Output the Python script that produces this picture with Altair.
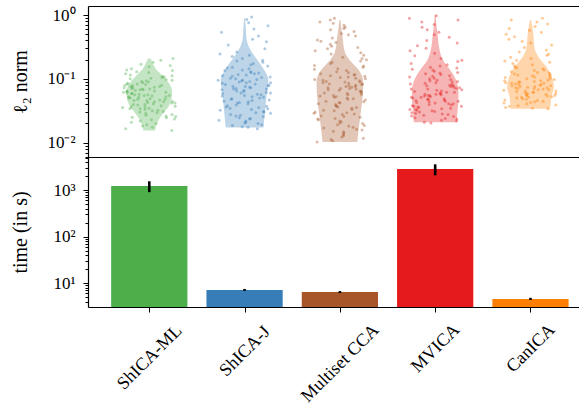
import json
import altair as alt
import pandas as pd

# ---------------- data ----------------
methods = ["ShICA-ML", "ShICA-J", "Multiset CCA", "MVICA", "CanICA"]
palette = ["#4daf4a", "#377eb8", "#a65628", "#e41a1c", "#ff7f00"]

# fitting time (s): mean and error half-length
time_mean = [1220, 7.1, 6.4, 2820, 4.55]
time_err = [320, 0.35, 0.3, 750, 0.25]

# violin outlines: log10(l2 norm) levels and relative half-widths
shica_ml_levels = [-1.81, -1.73, -1.57, -1.42, -1.30, -1.21, -1.10, -1.00, -0.93, -0.84, -0.76, -0.68]
shica_ml_widths = [0.25, 0.29, 0.52, 0.83, 0.94, 0.96, 0.88, 0.67, 0.50, 0.27, 0.15, 0.06]
shica_j_levels = [-1.76, -1.62, -1.42, -1.21, -1.02, -0.84, -0.68, -0.52, -0.37, -0.20, -0.05]
shica_j_widths = [0.79, 0.83, 0.88, 0.94, 1.00, 0.79, 0.49, 0.21, 0.08, 0.05, 0.02]
mcca_levels = [-1.99, -1.78, -1.52, -1.26, -1.05, -0.86, -0.73, -0.58, -0.37, -0.20, -0.08]
mcca_widths = [0.73, 0.79, 0.88, 0.96, 0.98, 0.79, 0.46, 0.21, 0.12, 0.06, 0.02]
mvica_levels = [-1.68, -1.57, -1.42, -1.21, -1.02, -0.86, -0.71, -0.52, -0.31, -0.15, 0.00]
mvica_widths = [0.90, 0.92, 0.96, 0.98, 0.88, 0.63, 0.33, 0.17, 0.10, 0.05, 0.02]
canica_levels = [-1.47, -1.28, -1.13, -1.00, -0.81, -0.68, -0.52, -0.31, -0.15, -0.08]
canica_widths = [0.83, 0.88, 0.98, 0.92, 0.67, 0.38, 0.17, 0.12, 0.06, 0.02]

# individual points, log10(l2 norm)
shica_ml_points = [-1.81, -1.78, -1.76, -1.74, -1.72, -1.70, -1.68, -1.66, -1.64, -1.63, -1.61, -1.60,
                   -1.59, -1.58, -1.57, -1.56, -1.54, -1.53, -1.52, -1.51, -1.50, -1.49, -1.48, -1.47,
                   -1.47, -1.46, -1.45, -1.44, -1.44, -1.43, -1.42, -1.41, -1.40, -1.40, -1.39, -1.38,
                   -1.38, -1.37, -1.36, -1.36, -1.35, -1.34, -1.34, -1.33, -1.32, -1.32, -1.31, -1.30,
                   -1.30, -1.29, -1.28, -1.28, -1.27, -1.26, -1.26, -1.25, -1.25, -1.24, -1.23, -1.23,
                   -1.22, -1.21, -1.21, -1.20, -1.19, -1.19, -1.18, -1.17, -1.17, -1.16, -1.16, -1.15,
                   -1.14, -1.14, -1.13, -1.12, -1.12, -1.11, -1.10, -1.10, -1.09, -1.08, -1.08, -1.07,
                   -1.06, -1.05, -1.04, -1.03, -1.02, -1.01, -1.00, -0.99, -0.98, -0.97, -0.96, -0.95,
                   -0.94, -0.92, -0.90, -0.89, -0.87, -0.86, -0.84, -0.81, -0.79, -0.77, -0.74, -0.71, -0.68]
shica_j_points = [-1.78, -1.76, -1.75, -1.73, -1.72, -1.70, -1.69, -1.68, -1.66, -1.65, -1.63, -1.62,
                  -1.61, -1.59, -1.58, -1.57, -1.56, -1.54, -1.53, -1.52, -1.51, -1.49, -1.48, -1.47,
                  -1.46, -1.45, -1.44, -1.43, -1.42, -1.41, -1.39, -1.38, -1.37, -1.36, -1.35, -1.34,
                  -1.33, -1.32, -1.31, -1.30, -1.29, -1.28, -1.27, -1.26, -1.25, -1.24, -1.23, -1.22,
                  -1.22, -1.21, -1.20, -1.19, -1.18, -1.17, -1.16, -1.16, -1.15, -1.14, -1.13, -1.12,
                  -1.12, -1.11, -1.10, -1.09, -1.08, -1.07, -1.06, -1.06, -1.05, -1.04, -1.03, -1.02,
                  -1.02, -1.01, -1.00, -0.99, -0.98, -0.97, -0.96, -0.95, -0.94, -0.93, -0.92, -0.91,
                  -0.90, -0.89, -0.87, -0.86, -0.84, -0.83, -0.82, -0.80, -0.78, -0.76, -0.74, -0.72,
                  -0.71, -0.68, -0.65, -0.63, -0.61, -0.58, -0.53, -0.47, -0.42, -0.38, -0.33, -0.27,
                  -0.22, -0.17, -0.12, -0.07, -0.03]
mcca_points = [-1.99, -1.97, -1.95, -1.93, -1.91, -1.89, -1.87, -1.85, -1.83, -1.82, -1.80, -1.79,
               -1.77, -1.76, -1.74, -1.73, -1.72, -1.70, -1.69, -1.67, -1.66, -1.64, -1.63, -1.62,
               -1.60, -1.59, -1.58, -1.56, -1.55, -1.54, -1.53, -1.52, -1.50, -1.49, -1.48, -1.46,
               -1.45, -1.44, -1.43, -1.42, -1.40, -1.39, -1.38, -1.37, -1.36, -1.35, -1.33, -1.32,
               -1.31, -1.30, -1.29, -1.28, -1.27, -1.26, -1.25, -1.24, -1.23, -1.22, -1.21, -1.20,
               -1.19, -1.18, -1.17, -1.16, -1.15, -1.15, -1.14, -1.13, -1.12, -1.12, -1.11, -1.10,
               -1.09, -1.08, -1.08, -1.07, -1.06, -1.05, -1.05, -1.04, -1.03, -1.02, -1.01, -1.00,
               -0.99, -0.98, -0.97, -0.96, -0.95, -0.94, -0.93, -0.92, -0.90, -0.89, -0.87, -0.85,
               -0.84, -0.82, -0.80, -0.79, -0.76, -0.74, -0.72, -0.70, -0.68, -0.66, -0.63, -0.61,
               -0.59, -0.56, -0.53, -0.51, -0.49, -0.46, -0.43, -0.41, -0.39, -0.36, -0.33, -0.31,
               -0.29, -0.26, -0.23, -0.21, -0.19, -0.16, -0.13, -0.11, -0.08, -0.05]
mvica_points = [-1.69, -1.68, -1.66, -1.65, -1.63, -1.62, -1.61, -1.59, -1.58, -1.57, -1.56, -1.55,
                -1.54, -1.53, -1.52, -1.51, -1.50, -1.49, -1.48, -1.48, -1.47, -1.46, -1.45, -1.44,
                -1.43, -1.43, -1.42, -1.41, -1.40, -1.39, -1.39, -1.38, -1.37, -1.36, -1.35, -1.35,
                -1.34, -1.33, -1.32, -1.32, -1.31, -1.30, -1.29, -1.29, -1.28, -1.27, -1.26, -1.26,
                -1.25, -1.24, -1.24, -1.23, -1.22, -1.21, -1.21, -1.20, -1.19, -1.18, -1.17, -1.16,
                -1.16, -1.15, -1.14, -1.13, -1.12, -1.11, -1.11, -1.10, -1.09, -1.08, -1.07, -1.06,
                -1.05, -1.04, -1.03, -1.02, -1.01, -1.00, -0.99, -0.97, -0.96, -0.95, -0.93, -0.92,
                -0.91, -0.90, -0.88, -0.86, -0.85, -0.83, -0.82, -0.80, -0.78, -0.76, -0.73, -0.71,
                -0.68, -0.64, -0.60, -0.56, -0.52, -0.48, -0.44, -0.40, -0.35, -0.31, -0.27, -0.23,
                -0.19, -0.15, -0.11, -0.08, -0.05, -0.01]
canica_points = [-1.47, -1.46, -1.45, -1.43, -1.42, -1.41, -1.39, -1.38, -1.37, -1.36, -1.35, -1.34,
                 -1.33, -1.32, -1.31, -1.30, -1.29, -1.29, -1.28, -1.27, -1.26, -1.26, -1.25, -1.24,
                 -1.23, -1.23, -1.22, -1.21, -1.21, -1.20, -1.19, -1.19, -1.18, -1.17, -1.17, -1.16,
                 -1.15, -1.15, -1.14, -1.14, -1.13, -1.12, -1.12, -1.11, -1.11, -1.10, -1.09, -1.09,
                 -1.08, -1.07, -1.07, -1.06, -1.05, -1.05, -1.04, -1.03, -1.03, -1.02, -1.01, -1.00,
                 -0.99, -0.98, -0.97, -0.96, -0.95, -0.94, -0.93, -0.92, -0.91, -0.90, -0.89, -0.87,
                 -0.86, -0.84, -0.83, -0.82, -0.80, -0.78, -0.76, -0.74, -0.72, -0.71, -0.68, -0.66,
                 -0.63, -0.61, -0.58, -0.55, -0.51, -0.47, -0.44, -0.41, -0.38, -0.34, -0.30, -0.27,
                 -0.24, -0.21, -0.18, -0.14, -0.11, -0.08, -0.05]

# axis ticks
top_major = [0.01, 0.1, 1]
top_labels = ["10⁻²", "10⁻¹", "10⁰"]
top_minor = [0.006, 0.007, 0.008, 0.009, 0.02, 0.03, 0.04, 0.05, 0.06, 0.07, 0.08, 0.09,
             0.2, 0.3, 0.4, 0.5, 0.6, 0.7, 0.8, 0.9]
bot_major = [10, 100, 1000]
bot_labels = ["10¹", "10²", "10³"]
bot_minor = [4, 5, 6, 7, 8, 9, 20, 30, 40, 50, 60, 70, 80, 90,
             200, 300, 400, 500, 600, 700, 800, 900, 2000, 3000, 4000, 5000]

# ---------------- tables ----------------
violin_sets = [(shica_ml_levels, shica_ml_widths), (shica_j_levels, shica_j_widths),
               (mcca_levels, mcca_widths), (mvica_levels, mvica_widths),
               (canica_levels, canica_widths)]
point_sets = [shica_ml_points, shica_j_points, mcca_points, mvica_points, canica_points]

vrows = []
for i, (m, (lv, wd)) in enumerate(zip(methods, violin_sets)):
    for l, w in zip(lv, wd):
        vrows.append({"method": m, "idx": i, "lg": l, "w": w})
violin_df = pd.DataFrame(vrows)

prows = []
for i, (m, pts) in enumerate(zip(methods, point_sets)):
    for p in pts:
        prows.append({"method": m, "idx": i, "lg": p})
points_df = pd.DataFrame(prows)

bars_df = pd.DataFrame({"method": methods, "idx": list(range(len(methods))),
                        "mean": time_mean, "err": time_err})

# ---------------- styling helpers ----------------
FONT = "Liberation Serif"
W = 491
xscale = alt.Scale(domain=[-0.643, 4.509], nice=False, zero=False)
color = alt.Color("method:N", scale=alt.Scale(domain=methods, range=palette), legend=None)

frame_bottom = alt.Axis(orient="bottom", labels=False, ticks=False, title=None, grid=False, domain=True)
frame_top = alt.Axis(orient="top", labels=False, ticks=False, title=None, grid=False, domain=True)


def log_axis(title, major, labels, minor, title_x):
    expr = " : ".join(f"datum.value == {v} ? '{t}'" for v, t in zip(major, labels)) + " : ''"
    test = " || ".join(f"datum.value == {v}" for v in major)
    return alt.Axis(
        values=major + minor,
        labelExpr=expr,
        tickSize={"condition": {"test": test, "value": 5}, "value": 3},
        labelFontSize=17,
        labelPadding=8,
        labelOverlap=False,
        labelFlush=False,
        labelBaseline="middle",
        title=title,
        titleFontSize=20,
        titleFontWeight="normal",
        titleX=title_x,
        titleBaseline="middle",
        grid=False,
    )


ytop_lo, ytop_hi = 10 ** -2.224, 10 ** 0.141
ybot_lo, ybot_hi = 10 ** 0.484, 10 ** 3.71
ytop_scale = alt.Scale(type="log", domain=[ytop_lo, ytop_hi], nice=False)
ybot_scale = alt.Scale(type="log", domain=[ybot_lo, ybot_hi], nice=False)

# ---------------- top panel: violins + strip ----------------
violins = alt.Chart(violin_df).transform_calculate(
    value="pow(10, datum.lg)",
    left="datum.idx - 0.25 * datum.w",
    right="datum.idx + 0.25 * datum.w",
).mark_area(orient="horizontal", interpolate="monotone", opacity=0.33).encode(
    y=alt.Y("value:Q", scale=ytop_scale,
            axis=log_axis("ℓ₂ norm", top_major, top_labels, top_minor, -68)),
    x=alt.X("left:Q", scale=xscale, axis=frame_bottom),
    x2="right:Q",
    color=color,
    detail="method:N",
)

points = alt.Chart(points_df).transform_window(
    rn="row_number()", groupby=["method"]
).transform_calculate(
    value="pow(10, datum.lg)",
    h="sin(datum.rn * 12.9898 + datum.idx * 78.233) * 43758.5453",
).transform_calculate(
    xj="datum.idx + (datum.h - floor(datum.h) - 0.5) * 0.56"
).mark_circle(size=9, opacity=0.4).encode(
    x=alt.X("xj:Q", scale=xscale, axis=frame_top),
    y=alt.Y("value:Q", scale=ytop_scale),
    color=color,
)

top = alt.layer(violins, points).properties(width=W, height=151)

# ---------------- bottom panel: bars ----------------
pads = [45, 39, 51, 36, 36]
pad_cond = [{"test": f"datum.value == {i}", "value": p} for i, p in enumerate(pads)]
xaxis = alt.Axis(
    orient="bottom",
    values=list(range(len(methods))),
    labelExpr=json.dumps(methods) + "[datum.value]",
    labelAngle=-45,
    labelAlign="center",
    labelBaseline="middle",
    labelPadding={"condition": pad_cond, "value": 37},
    labelFontSize=18,
    labelOverlap=False,
    labelFlush=False,
    labelBound=False,
    tickSize=5,
    title=None,
    grid=False,
)

base = alt.Chart(bars_df).transform_calculate(
    x0="datum.idx - 0.4",
    x1="datum.idx + 0.4",
    lo="datum.mean - datum.err",
    hi="datum.mean + datum.err",
)

bars = base.mark_bar(clip=True).encode(
    x=alt.X("x0:Q", scale=xscale, axis=xaxis),
    x2="x1:Q",
    y=alt.Y("mean:Q", scale=ybot_scale,
            axis=log_axis("time (in s)", bot_major, bot_labels, bot_minor, -68)),
    y2=alt.datum(ybot_lo),
    color=color,
)

errs = base.mark_rule(color="black", strokeWidth=2.6).encode(
    x=alt.X("idx:Q", scale=xscale, axis=frame_top),
    y=alt.Y("lo:Q", scale=ybot_scale),
    y2="hi:Q",
)

bottom = alt.layer(bars, errs).properties(width=W, height=150)

chart = alt.vconcat(top, bottom, spacing=0, bounds="flush").properties(
    padding={"left": 10, "top": 6, "right": 0, "bottom": 0},
).configure(font=FONT).configure_view(
    stroke=None
).configure_axis(
    domainColor="black", domainWidth=1.2, tickColor="black", tickWidth=1,
    labelColor="black", titleColor="black", labelFont=FONT, titleFont=FONT,
)

chart.save("out.html", embed_options={"renderer": "svg", "actions": False})
